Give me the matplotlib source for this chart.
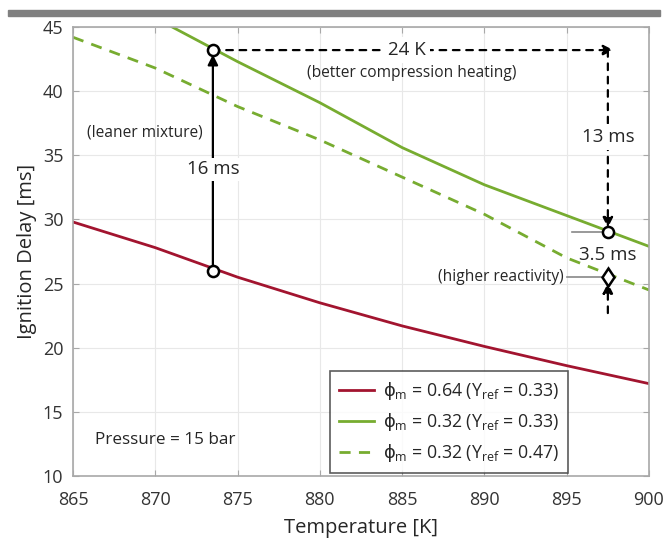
import matplotlib.pyplot as plt

plt.rcParams['font.family'] = ['Open Sans', 'DejaVu Sans']
plt.rcParams['mathtext.fontset'] = 'custom'
plt.rcParams['mathtext.rm'] = 'Open Sans'
plt.rcParams['mathtext.it'] = 'Open Sans'
plt.rcParams['mathtext.sf'] = 'DejaVu Sans'

# temperature grid [K]
temps = [865, 870, 875, 880, 885, 890, 895, 900]

# ignition delay [ms]
tau_rich = [29.8, 27.8, 25.5, 23.5, 21.7, 20.1, 18.6, 17.2]
tau_lean = [49.5, 45.7, 42.3, 39.1, 35.6, 32.7, 30.3, 27.9]
tau_lean_hiY = [44.2, 41.8, 38.8, 36.2, 33.3, 30.4, 27.0, 24.5]

labels = [r'$\mathsf{\phi}_{\mathrm{m}}$ = 0.64 (Y$_{\mathrm{ref}}$ = 0.33)',
          r'$\mathsf{\phi}_{\mathrm{m}}$ = 0.32 (Y$_{\mathrm{ref}}$ = 0.33)',
          r'$\mathsf{\phi}_{\mathrm{m}}$ = 0.32 (Y$_{\mathrm{ref}}$ = 0.47)']

red = '#a2142f'
green = '#77ac30'
txt = '#262626'

# operating points
T_a, T_b = 873.5, 897.5
tau_a_rich, tau_a_lean = 26.0, 43.2
tau_b_lean, tau_b_hiY = 29.0, 25.5

fig = plt.figure(figsize=(6.65, 5.41), dpi=100)
ax = fig.add_axes([73 / 665, 1 - 476 / 541, 576 / 665, 449 / 541])

# gray banner on top
fig.patches.append(plt.Rectangle((8 / 665, 1 - 16 / 541), 652 / 665, 6 / 541,
                                 transform=fig.transFigure, color='#808080', zorder=0))

ax.plot(temps, tau_rich, color=red, lw=2, label=labels[0])
ax.plot(temps, tau_lean, color=green, lw=2, label=labels[1])
ax.plot(temps, tau_lean_hiY, color=green, lw=2, ls=(0, (4, 3)), label=labels[2])

ax.set_xlim(865, 900)
ax.set_ylim(10, 45)
ax.set_xticks(range(865, 901, 5))
ax.set_yticks(range(10, 46, 5))
ax.grid(True, color='#e8e8e8', lw=0.8)
ax.set_axisbelow(True)
for s in ax.spines.values():
    s.set_color('#a8a8a8')
    s.set_linewidth(1.2)
ax.tick_params(direction='in', top=True, right=True, length=4, color='#a8a8a8',
               labelsize=13, labelcolor='#333333')
ax.tick_params(axis='x', pad=11)
ax.tick_params(axis='y', pad=7)
ax.set_xlabel('Temperature [K]', fontsize=14.5, color=txt, labelpad=6)
ax.set_ylabel('Ignition Delay [ms]', fontsize=14.5, color=txt, labelpad=4)

ann = dict(color='black', lw=1.6)

# 16 ms: richer -> leaner at constant temperature
ax.annotate('', xy=(T_a, tau_a_lean - 0.35), xytext=(T_a, tau_a_rich + 0.3),
            arrowprops=dict(arrowstyle='-|>', mutation_scale=15, shrinkA=0, shrinkB=0, **ann))
ax.text(T_a, 33.9, '16 ms', ha='center', va='center', fontsize=13.5, color=txt,
        bbox=dict(fc='white', ec='none', pad=2))
ax.text(872.9, 36.8, '(leaner mixture)', ha='right', va='center', fontsize=11.2, color=txt)

# 24 K: compression heating
ax.annotate('', xy=(T_b + 0.35, tau_a_lean), xytext=(T_a, tau_a_lean),
            arrowprops=dict(arrowstyle='-|>', mutation_scale=15, shrinkA=0, shrinkB=0,
                            ls=(0, (3, 3)), **ann))
ax.text(885.3, tau_a_lean, '24 K', ha='center', va='center', fontsize=13.5, color=txt,
        bbox=dict(fc='white', ec='none', pad=3))
ax.text(885.6, 41.4, '(better compression heating)', ha='center', va='center',
        fontsize=11.2, color=txt)

# 13 ms: downward to the leaner curve
ax.annotate('', xy=(T_b, tau_b_lean + 0.35), xytext=(T_b, tau_a_lean),
            arrowprops=dict(arrowstyle='-|>', mutation_scale=15, shrinkA=0, shrinkB=0,
                            ls=(0, (3, 3)), **ann))
ax.text(T_b, 36.4, '13 ms', ha='center', va='center', fontsize=13.5, color=txt,
        bbox=dict(fc='white', ec='none', pad=3))

# 3.5 ms: higher reactivity
ax.annotate('', xy=(T_b, tau_b_hiY - 0.45), xytext=(T_b, 22.7),
            arrowprops=dict(arrowstyle='-|>', mutation_scale=15, shrinkA=0, shrinkB=0,
                            ls=(0, (3, 3)), **ann))
ax.text(T_b, 27.2, '3.5 ms', ha='center', va='center', fontsize=13.5, color=txt)
ax.plot([895.3, T_b], [tau_b_lean, tau_b_lean], color='#888888', lw=1.2, zorder=3)
ax.plot([895.0, T_b], [tau_b_hiY, tau_b_hiY], color='#888888', lw=1.2, zorder=3)
ax.text(894.8, tau_b_hiY, '(higher reactivity)', ha='right', va='center',
        fontsize=11.2, color=txt)

mk = dict(mfc='white', mec='black', mew=1.8, zorder=6, clip_on=False)
ax.plot([T_a, T_a, T_b], [tau_a_rich, tau_a_lean, tau_b_lean], 'o', ms=8, **mk)
ax.plot([T_b], [tau_b_hiY], 'd', ms=9.5, **mk)

ax.text(866.35, 12.8, 'Pressure = 15 bar', ha='left', va='center', fontsize=12.3, color=txt)

leg = ax.legend(loc='lower right', bbox_to_anchor=(495 / 576, 3 / 449),
                bbox_transform=ax.transAxes, borderaxespad=0, fontsize=12.8,
                frameon=True, fancybox=False, handlelength=2.0, handletextpad=0.5,
                borderpad=0.5, labelspacing=0.5)
leg.get_frame().set_edgecolor('#333333')
leg.get_frame().set_linewidth(1.2)
for t in leg.get_texts():
    t.set_color(txt)

fig.savefig('out.png', dpi=100)
